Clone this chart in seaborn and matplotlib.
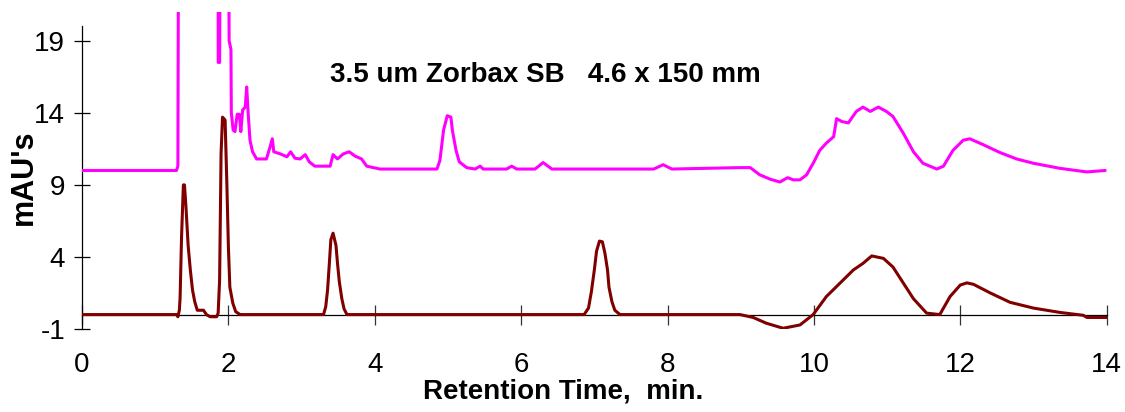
import matplotlib
matplotlib.use("Agg")
import matplotlib.pyplot as plt
import numpy as np
import pandas as pd
import seaborn as sns

# Retention time (min) and detector response (mAU) for the two chromatograms
upper_time = [0.00, 1.29, 1.31, 1.32, 1.86, 1.861, 1.88, 1.89, 2.00, 2.01, 2.035, 2.04,
              2.065, 2.09, 2.12, 2.15, 2.17, 2.195, 2.23, 2.25, 2.27, 2.295, 2.33, 2.385,
              2.52, 2.57, 2.60, 2.62, 2.71, 2.80, 2.85, 2.91, 2.98, 3.05, 3.105, 3.18,
              3.39, 3.43, 3.49, 3.57, 3.65, 3.73, 3.82, 3.89, 3.98, 4.07, 4.85, 4.89,
              4.94, 4.99, 5.04, 5.06, 5.11, 5.155, 5.255, 5.37, 5.44, 5.48, 5.80, 5.87,
              5.94, 6.19, 6.30, 6.42, 7.81, 7.94, 8.06, 8.99, 9.13, 9.26, 9.40, 9.535,
              9.64, 9.72, 9.81, 9.90, 9.99, 10.08, 10.17, 10.27, 10.31, 10.38, 10.47,
              10.58, 10.67, 10.77, 10.88, 10.99, 11.08, 11.22, 11.36, 11.49, 11.68,
              11.77, 11.90, 12.04, 12.13, 12.31, 12.54, 12.77, 13.00, 13.36, 13.73, 13.98]
upper_mau = [10.0, 10.0, 10.3, 30.0, 30.0, 17.5, 17.5, 30.0, 30.0, 19.0, 18.4, 14.0,
             12.8, 12.7, 13.9, 13.9, 12.7, 14.2, 14.4, 15.8, 14.0, 12.1, 11.3, 10.8,
             10.8, 11.65, 12.2, 11.3, 11.15, 10.95, 11.3, 10.85, 10.8, 11.1, 10.6, 10.3,
             10.3, 11.1, 10.8, 11.15, 11.3, 11.0, 10.8, 10.3, 10.2, 10.1, 10.1, 10.7,
             12.8, 13.8, 13.7, 12.8, 11.4, 10.6, 10.2, 10.1, 10.3, 10.1, 10.1, 10.3,
             10.1, 10.1, 10.55, 10.1, 10.1, 10.4, 10.1, 10.2, 10.2, 9.7, 9.4, 9.2,
             9.5, 9.35, 9.35, 9.7, 10.5, 11.4, 11.9, 12.35, 13.6, 13.4, 13.3,
             14.1, 14.4, 14.1, 14.4, 14.1, 13.75, 12.6, 11.3, 10.5, 10.1,
             10.3, 11.4, 12.1, 12.2, 11.8, 11.25, 10.8, 10.5, 10.15, 9.9, 10.0]

lower_time = [0.00, 1.30, 1.31, 1.33, 1.34, 1.36, 1.385, 1.40, 1.42, 1.45, 1.48, 1.51,
              1.54, 1.575, 1.66, 1.70, 1.75, 1.84, 1.86, 1.88, 1.90, 1.92, 1.955, 1.98,
              2.00, 2.02, 2.06, 2.10, 2.16, 3.30, 3.33, 3.355, 3.38, 3.40, 3.43, 3.47,
              3.49, 3.515, 3.55, 3.58, 3.62, 6.86, 6.92, 6.96, 7.00, 7.03, 7.07, 7.11,
              7.145, 7.18, 7.20, 7.24, 7.28, 7.35, 8.99, 9.17, 9.35, 9.58, 9.81, 9.99,
              10.17, 10.36, 10.54, 10.67, 10.79, 10.95, 11.08, 11.22, 11.36, 11.54, 11.72,
              11.86, 12.00, 12.09, 12.18, 12.41, 12.68, 13.00, 13.36, 13.68, 13.73, 14.00]
lower_mau = [0.0, 0.0, -0.15, 0.3, 1.15, 5.4, 9.0, 9.0, 7.5, 4.8, 3.1, 1.7,
             0.9, 0.3, 0.3, 0.0, -0.15, -0.15, 0.1, 2.4, 11.2, 13.7, 13.5, 8.9,
             4.7, 1.9, 0.8, 0.2, 0.0, 0.0, 0.55, 1.7, 3.6, 5.2, 5.65, 4.8,
             3.6, 2.3, 1.1, 0.4, 0.0, 0.0, 0.45, 1.6, 3.1, 4.4, 5.1, 5.05,
             4.25, 3.1, 1.9, 0.9, 0.3, 0.0, 0.0, -0.2, -0.6, -0.95, -0.72, 0.0,
             1.25, 2.2, 3.1, 3.55, 4.07, 3.9, 3.3, 2.2, 1.1, 0.1, 0.0,
             1.25, 2.05, 2.2, 2.1, 1.5, 0.85, 0.45, 0.15, -0.05, -0.2, -0.2]

x_ticks = [0, 2, 4, 6, 8, 10, 12, 14]
y_ticks = [-1, 4, 9, 14, 19]
title_text = "3.5 um Zorbax SB   4.6 x 150 mm"

sns.set_style("white")
plt.rcParams["font.family"] = ["Liberation Sans", "DejaVu Sans"]
plt.rcParams["text.color"] = "black"
plt.rcParams["axes.labelcolor"] = "black"
plt.rcParams["xtick.color"] = "black"
plt.rcParams["ytick.color"] = "black"

upper = pd.DataFrame({"time": upper_time, "mau": upper_mau})
lower = pd.DataFrame({"time": lower_time, "mau": lower_mau})

fig = plt.figure(figsize=(11.25, 4.12), dpi=100)
ax = fig.add_axes([0.0729, 0.2015, 0.9108, 0.7694])

sns.lineplot(data=upper, x="time", y="mau", ax=ax, sort=False, estimator=None,
             color="#FF00FF", linewidth=2.2)
sns.lineplot(data=lower, x="time", y="mau", ax=ax, sort=False, estimator=None,
             color="#800000", linewidth=2.2)

ax.set_xlim(0, 14)
ax.set_ylim(-1, 21)

# Axis lines: y axis from -1 to 20, x axis along the zero line
for side in ("top", "right"):
    ax.spines[side].set_visible(False)
ax.spines["bottom"].set_position(("data", 0))
ax.spines["bottom"].set_bounds(0, 14)
ax.spines["left"].set_bounds(-1, 20)
for side in ("bottom", "left"):
    ax.spines[side].set_linewidth(0.9)
    ax.spines[side].set_color("black")
    ax.spines[side].set_zorder(1)

ax.set_xticks(x_ticks)
ax.set_yticks(y_ticks)
ax.set_xticklabels([str(v) for v in x_ticks])
ax.set_yticklabels([str(v) for v in y_ticks])
ax.tick_params(axis="x", direction="inout", length=14, width=0.9, color="#333333",
               labelcolor="black", labelsize=20, pad=20, bottom=True)
ax.tick_params(axis="y", direction="inout", length=12, width=0.9, color="black",
               labelcolor="black", labelsize=20, pad=6, left=True)

ax.set_xlabel("Retention Time,  min.", fontsize=20, fontweight="bold", color="black")
ax.set_ylabel("mAU's", fontsize=22, fontweight="bold", color="black")
ax.xaxis.set_label_coords(0.47, -0.155)
ax.yaxis.set_label_coords(-0.042, 0.48)

ax.text(6.33, 16.6, title_text, ha="center", va="center",
        fontsize=20, fontweight="bold", color="black")

fig.savefig("out.png", dpi=100)
